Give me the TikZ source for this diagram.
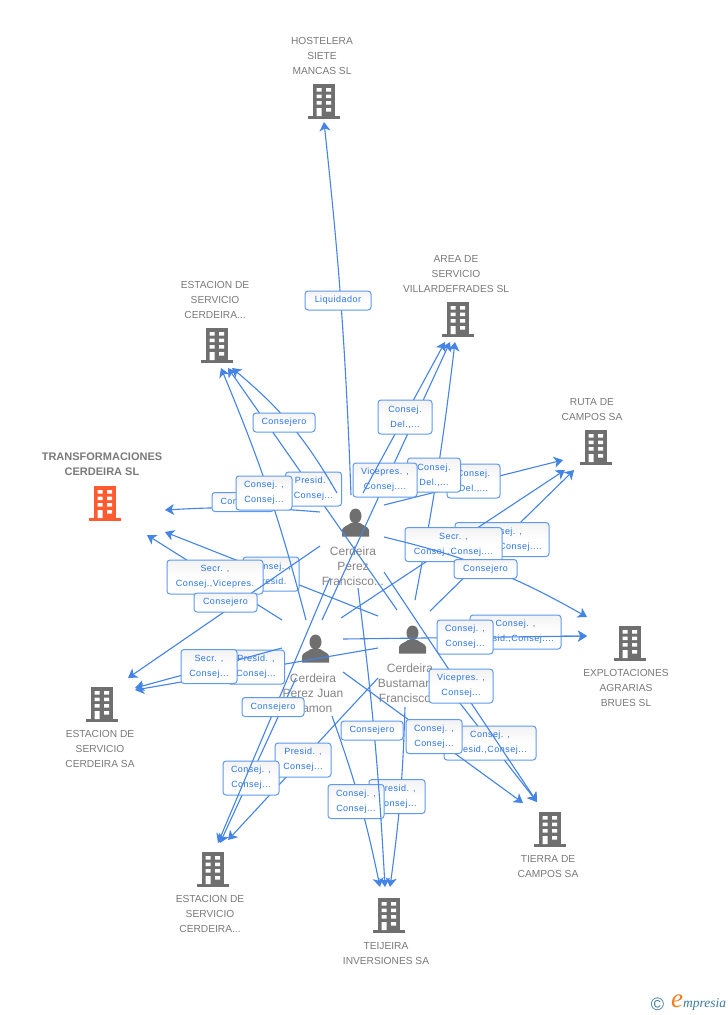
\documentclass[tikz,border=0pt]{standalone}
\usepackage{fontspec}
\setmainfont{Liberation Sans}
\newfontfamily\labfont[LetterSpace=5.5]{Liberation Sans}
\newfontfamily\logofont{Liberation Serif}
\usetikzlibrary{arrows.meta}
\definecolor{edgeblue}{HTML}{4484E6}
\definecolor{boxblue}{HTML}{5F9AEC}
\definecolor{textblue}{HTML}{2A74E2}
\definecolor{txtgray}{HTML}{7A7A7A}
\definecolor{pgray}{HTML}{858585}
\definecolor{icongray}{HTML}{6F6F6F}
\definecolor{iconorange}{HTML}{FF5B2E}
\definecolor{logoblue}{HTML}{3F7C99}
\definecolor{logoorange}{HTML}{F08020}
\tikzset{
  edge/.style={draw=edgeblue,line width=1.1pt,-{Stealth[length=9pt,width=11pt,inset=2.5pt]}},
  lab/.style={draw=boxblue,line width=1pt,rounded corners=3pt,top color=black!5,bottom color=white,
    middle color=white,inner sep=0pt,align=center,text=textblue,font=\labfont\fontsize{9}{15}\selectfont},
  cname/.style={text=txtgray,align=center,inner sep=0pt,font=\fontsize{10.2}{15}\selectfont},
  tname/.style={text=txtgray,align=center,inner sep=0pt,font=\bfseries\fontsize{11}{15}\selectfont},
  pname/.style={text=pgray,align=center,inner sep=0pt,font=\fontsize{12}{15}\selectfont},
  anchorbox/.style={inner sep=0pt,minimum width=32pt,minimum height=34pt},
  bldg/.pic={
    \fill[pic actions] (-11,-17) rectangle (11,15);
    \fill[pic actions] (-16,14.5) rectangle (16,17.5);
    \fill[white] (-7.5,-13) rectangle (-2.5,-9.5) (2,-13) rectangle (7,-9.5);
    \fill[white] (-7.5,-6.5) rectangle (-2.5,-3) (2,-6.5) rectangle (7,-3);
    \fill[white] (-7.5,0) rectangle (-2.5,3.5) (2,0) rectangle (7,3.5);
    \fill[white] (-7.5,7) rectangle (-2.5,15) (2,7) rectangle (7,10.5);
  },
  person/.pic={
    \fill[pic actions] (0.5,-7) ellipse (6 and 7.5);
    \fill[pic actions] (-13,13.5) -- (-13,7) .. controls (-12,3.5) and (-8,3) .. (-4,0)
      -- (5,0) .. controls (9,3) and (13,3.5) .. (14,7) -- (14,13.5) -- cycle;
  }
}
\newcommand\conn[8]{%
  \coordinate (#1a) at (#2);
  \coordinate (#1b) at (#3);
  \draw[edge] (#1a) to[#4] (#1b);
  \node[lab,minimum width=#6pt,minimum height=#7pt] (#1l) at (#5) {#8};
}
\begin{document}
\begin{tikzpicture}[x=1pt,y=-1pt]
\useasboundingbox (0,0) rectangle (728,1015);
\fill[white] (0,0) rectangle (728,1015);

% companies
\node[anchorbox] (H) at (324,101) {};  \pic[fill=icongray] at (H) {bldg};
\node[cname] (Ht) at (322,56) {HOSTELERA\\SIETE\\MANCAS SL};
\node[anchorbox] (E1) at (217,345) {}; \pic[fill=icongray] at (E1) {bldg};
\node[cname] (E1t) at (215,300) {ESTACION DE\\SERVICIO\\CERDEIRA...};
\node[anchorbox] (A) at (458,319) {};  \pic[fill=icongray] at (A) {bldg};
\node[cname] (At) at (456,274) {AREA DE\\SERVICIO\\VILLARDEFRADES SL};
\node[anchorbox] (R) at (596,447) {};  \pic[fill=icongray] at (R) {bldg};
\node[cname] (Rt) at (592,409.5) {RUTA DE\\CAMPOS SA};
\node[anchorbox] (T) at (105,503) {};  \pic[fill=iconorange] at (T) {bldg};
\node[tname] (Tt) at (102,464.5) {TRANSFORMACIONES\\CERDEIRA SL};
\node[anchorbox] (X) at (630,643) {};  \pic[fill=icongray] at (X) {bldg};
\node[cname] (Xt) at (626,688) {EXPLOTACIONES\\AGRARIAS\\BRUES SL};
\node[anchorbox] (S) at (102,704) {};  \pic[fill=icongray] at (S) {bldg};
\node[cname] (St) at (100,749) {ESTACION DE\\SERVICIO\\CERDEIRA SA};
\node[anchorbox] (F) at (213,869) {};  \pic[fill=icongray] at (F) {bldg};
\node[cname] (Ft) at (210,914) {ESTACION DE\\SERVICIO\\CERDEIRA...};
\node[anchorbox] (J) at (389,915) {};  \pic[fill=icongray] at (J) {bldg};
\node[cname] (Jt) at (386,953.5) {TEIJEIRA\\INVERSIONES SA};
\node[anchorbox] (M) at (550,829) {};  \pic[fill=icongray] at (M) {bldg};
\node[cname] (Mt) at (548,866.5) {TIERRA DE\\CAMPOS SA};

% people
\node[anchorbox] (P1) at (355,523) {}; \pic[fill=icongray] at (P1) {person};
\node[pname] (P1t) at (353,566) {Cerdeira\\Perez\\Francisco...};
\node[anchorbox] (P2) at (315,649) {}; \pic[fill=icongray] at (P2) {person};
\node[pname] (P2t) at (313,693) {Cerdeira\\Perez Juan\\Ramon};
\node[anchorbox] (P3) at (412,640) {}; \pic[fill=icongray] at (P3) {person};
\node[pname] (P3t) at (410,683) {Cerdeira\\Bustamante\\Francisco...};

% connectors
\conn{aT}{320,512}{165,510}{bend right=4}{243,502}{62}{19}{Consejero}
\conn{aR}{384,505}{563,460}{bend left=0}{473.5,481}{53}{34}{Consej.\\Del.,...}

\conn{cT}{378,616}{165,532}{bend left=0}{271,574}{56}{34}{Consej. ,\\Presid.}
\conn{cE}{397,610}{228,368}{bend left=0}{313.5,489}{56}{34}{Presid. ,\\Consej...}
\conn{cA}{415,600}{455,342}{bend right=2}{434,475}{53}{34}{Consej.\\Del.,...}
\conn{cR}{430,611}{574,470}{bend left=0}{502,539.5}{94}{34}{Consej. ,\\Consej.,Consej....}
\conn{cX}{443,637}{587,636}{bend left=0}{515.5,632}{91}{34}{Consej. ,\\Presid.,Consej....}
\conn{cM}{445,684}{537,802}{bend left=0}{490,743}{92}{34}{Consej. ,\\Presid.,Consej...}
\conn{cJ}{405,707}{390,887}{bend left=3}{397,796.5}{56}{34}{Presid. ,\\Consej...}
\conn{cS}{378,648}{135,690}{bend left=0}{256,667}{57}{34}{Presid. ,\\Consej...}
\conn{cF}{378,678}{228,840}{bend left=0}{303,760}{56}{34}{Presid. ,\\Consej...}

\conn{bT}{282,620}{147,535}{bend left=0}{215,577}{96}{34}{Secr. ,\\Consej.,Vicepres.}
\conn{bE}{306,620}{221,368}{bend right=4}{264,493}{56}{34}{Consej. ,\\Consej...}
\conn{bA}{322,620}{450,342}{bend left=0}{385,480}{64}{34}{Vicepres. ,\\Consej....}
\conn{bR}{341,618}{565,470}{bend left=0}{453.5,544.5}{97}{34}{Secr. ,\\Consej.,Consej....}
\conn{bX}{343,639}{587,636}{bend left=0}{465,637}{56}{34}{Consej. ,\\Consej...}
\conn{bM}{343,672}{523,803}{bend left=0}{434,736.5}{56}{34}{Consej. ,\\Consej...}
\conn{bJ}{332,716}{380,887}{bend left=4}{356,801.5}{56}{34}{Consej. ,\\Consej...}
\conn{bS}{282,648}{135,688}{bend left=0}{209,666.5}{56}{34}{Secr. ,\\Consej...}
\conn{bF}{296,678}{220,843}{bend left=0}{251,778}{56}{34}{Consej. ,\\Consej...}

\conn{aH}{351,495}{324,122}{bend right=2}{338,300.5}{66}{19}{Liquidador}
\conn{aE}{337,493}{232,368}{bend right=10}{284,422.5}{62}{19}{Consejero}
\conn{aA}{363,493}{445,342}{bend left=0}{405,417}{54}{34}{Consej.\\Del.,...}
\conn{aS}{320,546}{128,678}{bend left=0}{225.5,602.5}{63}{19}{Consejero}
\conn{aX}{384,537}{587,617}{bend left=8}{485.5,569}{63}{19}{Consejero}
\conn{aM}{384,572}{537,802}{bend left=0}{461,686}{64}{34}{Vicepres. ,\\Consej...}
\conn{aJ}{358,588}{385,887}{bend left=2}{372,730.5}{62}{19}{Consejero}
\conn{aF}{330,578}{218,843}{bend left=0}{273,707}{62}{19}{Consejero}

% logo
\node[inner sep=0pt,text=logoblue,font=\fontsize{18}{18}\selectfont] (logoc) at (657.5,1004) {©};
\node[inner sep=0pt,text=logoorange,font=\logofont\itshape\fontsize{27}{27}\selectfont] (logoe) at (677,1001) {e};
\node[inner sep=0pt,anchor=west,text=logoblue,font=\logofont\itshape\fontsize{13.5}{13.5}\selectfont] (logot) at (683,1004.5) {mpresia};
\end{tikzpicture}
\end{document}
